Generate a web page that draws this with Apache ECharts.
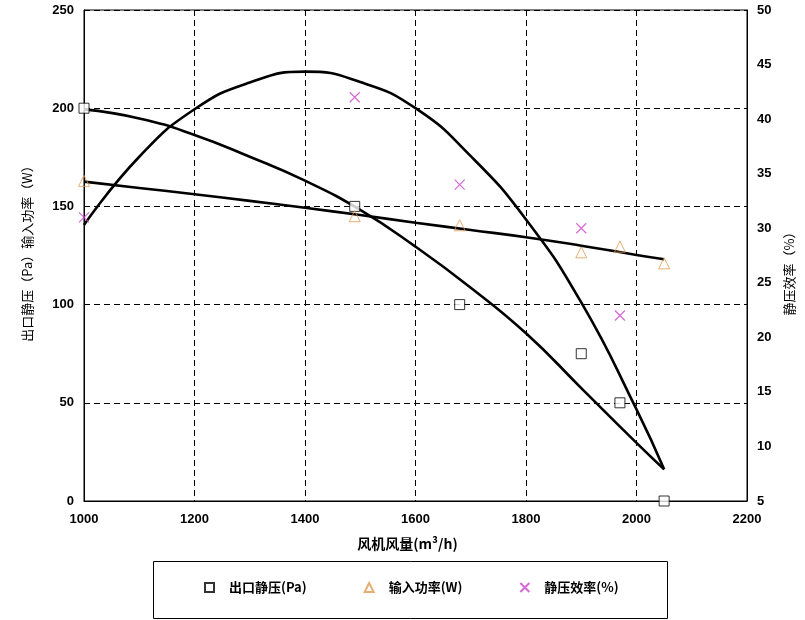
<!DOCTYPE html>
<html>
<head>
    <meta charset="UTF-8">
    <title></title>
    <style>
        html, body { margin: 0; padding: 0; background: #fff; }
        #container { width: 805px; height: 620px; }
    </style>
</head>
<body>
    <div id="container"></div>
    <script src="https://cdn.jsdelivr.net/npm/echarts@6/dist/echarts.min.js"></script>
    <script>
        // measured points
        var flow = [1000, 1490, 1680, 1900, 1970, 2050];
        var pressure = [200, 150, 100, 75, 50, 0];
        var power = [163, 145, 140.4, 126.6, 129.5, 121];
        var effFlow = [1000, 1490, 1680, 1900, 1970];
        var efficiency = [31.0, 42.0, 34.0, 30.0, 22.0];

        // trend lines
        var trendX = [1000, 1100, 1200, 1300, 1400, 1500, 1600, 1700, 1800, 1900, 2000, 2050];
        var pressureTrend = [199.4, 194.8, 186.4, 175.3, 163.1, 148.2, 129.5, 108.6, 85.4, 57.5, 29.6, 16.1];
        var powerTrend = [162.6, 159.4, 156.2, 152.8, 149.3, 145.6, 141.7, 138, 134.3, 130, 125.3, 123.1];
        var effTrend = [30.3, 36.55, 40.9, 43.35, 44.35, 43.4, 41.0, 36.6, 30.8, 23.2, 13.4, 7.9];

        function pairs(xs, ys) {
            return xs.map(function (x, i) { return [x, ys[i]]; });
        }

        var font = "'Liberation Sans', 'Noto Sans CJK SC', sans-serif";
        var cjk = "'Noto Sans CJK SC', sans-serif";
        var plain = function (v) { return String(v); };

        var myChart = echarts.init(document.getElementById('container'));
        myChart.setOption({
            animation: false,
            grid: {
                left: 84, right: 58, top: 10, bottom: 119,
                show: true, borderColor: '#000', borderWidth: 1
            },
            graphic: [{
                type: 'rect',
                shape: { x: 153.5, y: 561.5, width: 514, height: 57 },
                style: { fill: 'none', stroke: '#000', lineWidth: 1 }
            }],
            legend: {
                data: ['出口静压(Pa)', '输入功率(W)', '静压效率(%)'],
                left: 204, top: 581,
                padding: 0,
                itemGap: 57,
                itemWidth: 9, itemHeight: 9,
                textStyle: { fontFamily: cjk, fontSize: 13, fontWeight: 'bold', color: '#000', padding: [0, 0, 0, 10] }
            },
            xAxis: {
                type: 'value', min: 1000, max: 2200, interval: 200,
                name: '风机风量(m³/h)', nameLocation: 'middle', nameGap: 36,
                nameTextStyle: { fontFamily: cjk, fontSize: 14, fontWeight: 'bold', color: '#000', padding: [0, 16, 0, 0] },
                axisLine: { lineStyle: { color: '#000' } },
                axisTick: { show: false },
                axisLabel: { margin: 12, formatter: plain, fontFamily: font, fontSize: 13, fontWeight: 'bold', color: '#000' },
                splitLine: { lineStyle: { color: '#000', type: [6, 4], width: 1 } }
            },
            yAxis: [{
                type: 'value', min: 0, max: 250, interval: 50,
                name: '出口静压（Pa）输入功率（W）', nameLocation: 'middle', nameGap: 50, nameRotate: 90,
                nameTextStyle: { fontFamily: cjk, fontSize: 13, color: '#000', padding: [0, 0, 0, 10] },
                axisLine: { show: true, lineStyle: { color: '#000' } },
                axisTick: { show: false },
                axisLabel: { margin: 10, formatter: plain, fontFamily: font, fontSize: 13, fontWeight: 'bold', color: '#000' },
                splitLine: { lineStyle: { color: '#000', type: [6, 4], width: 1 } }
            }, {
                type: 'value', min: 5, max: 50, interval: 5,
                name: '静压效率（%）', nameLocation: 'middle', nameGap: 36, nameRotate: 90,
                nameTextStyle: { fontFamily: cjk, fontSize: 13, color: '#000', padding: [0, 30, 0, 0] },
                axisLine: { show: true, lineStyle: { color: '#000' } },
                axisTick: { show: false },
                axisLabel: { margin: 10, formatter: plain, fontFamily: font, fontSize: 13, fontWeight: 'bold', color: '#000' },
                splitLine: { show: false }
            }],
            series: [
                {
                    type: 'line', data: pairs(trendX, pressureTrend), smooth: true,
                    showSymbol: false, silent: true,
                    lineStyle: { color: '#000', width: 2.6 }
                },
                {
                    type: 'line', data: pairs(trendX, powerTrend), smooth: true,
                    showSymbol: false, silent: true,
                    lineStyle: { color: '#000', width: 2.6 }
                },
                {
                    type: 'line', yAxisIndex: 1, data: pairs(trendX, effTrend), smooth: true,
                    showSymbol: false, silent: true,
                    lineStyle: { color: '#000', width: 2.6 }
                },
                {
                    name: '出口静压(Pa)', type: 'scatter', data: pairs(flow, pressure),
                    symbol: 'rect', symbolSize: 10, z: 5,
                    itemStyle: { color: '#fff', borderColor: '#000', borderWidth: 1 }
                },
                {
                    name: '输入功率(W)', type: 'scatter', data: pairs(flow, power),
                    symbol: 'triangle', symbolSize: 11, z: 5,
                    itemStyle: { color: 'rgba(255,255,255,0)', borderColor: '#e09a50', borderWidth: 1 }
                },
                {
                    name: '静压效率(%)', type: 'scatter', yAxisIndex: 1, data: pairs(effFlow, efficiency),
                    symbol: 'path://M0,0L10,10M10,0L0,10', symbolSize: 10, z: 5,
                    itemStyle: { color: 'rgba(255,255,255,0)', borderColor: '#cc44cc', borderWidth: 1.2 }
                }
            ]
        });
    </script>
</body>
</html>
